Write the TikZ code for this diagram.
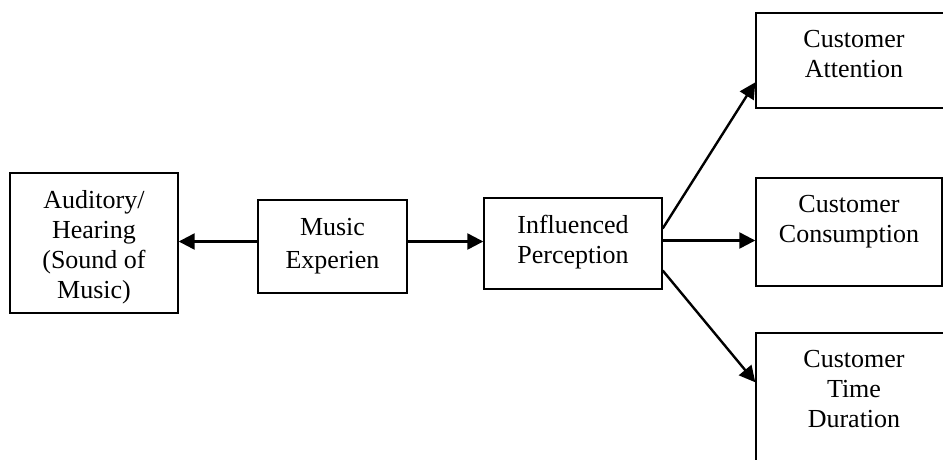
\documentclass[tikz,border=0pt]{standalone}
\usepackage{fontspec}
\setmainfont{Liberation Serif}
\usetikzlibrary{positioning,arrows.meta}
\begin{document}
\begin{tikzpicture}[x=1pt,y=-1pt,
    box/.style={draw,line width=1.4pt,inner sep=0pt},
    txt/.style={align=center,inner sep=0pt,font=\fontsize{26}{30}\selectfont},
    arr/.style={line width=2.4pt,-{Triangle[length=16pt,width=16pt]}}]
        \clip (0,0) rectangle (943,459);
        % boxes
        \node[box,minimum width=168pt,minimum height=140pt] (aud) at (94,243) {};
        \node[box,minimum width=149pt,minimum height=93pt] (mus) at (332.5,246.5) {};
        \node[box,minimum width=178pt,minimum height=91pt] (inf) at (573,243.5) {};
        \node[box,minimum width=196pt,minimum height=95pt] (att) at (854,60.5) {};
        \node[box,minimum width=186pt,minimum height=108pt] (con) at (849,232) {};
        \node[box,minimum width=196pt,minimum height=137pt] (tim) at (854,401.5) {};

        % texts
        \node[txt,below=18pt of aud.north] {Auditory/\\Hearing\\(Sound of\\Music)};
        \node[txt,below=19pt of mus.north] {Music\\[3pt]Experien};
        \node[txt,below=18pt of inf.north] {Influenced\\Perception};
        \node[txt,below=18pt of att.north] {Customer\\Attention};
        \node[txt,below=18pt of con.north] {Customer\\Consumption};
        \node[txt,below=18pt of tim.north] {Customer\\Time\\Duration};

        % arrows
        \draw[arr] ([yshift=5pt]mus.west) coordinate (m1) -- (m1 -| aud.east);
        \draw[arr] ([yshift=5pt]mus.east) coordinate (m2) -- (m2 -| inf.west);
        \draw[arr] ([yshift=15pt]inf.east) -- ([yshift=-70pt]att.north west);
        \draw[arr] ([yshift=3pt]inf.east) coordinate (p1) -- (p1 -| con.west);
        \draw[arr] ([yshift=-27pt]inf.east) -- ([yshift=-50pt]tim.north west);
\end{tikzpicture}
\end{document}
